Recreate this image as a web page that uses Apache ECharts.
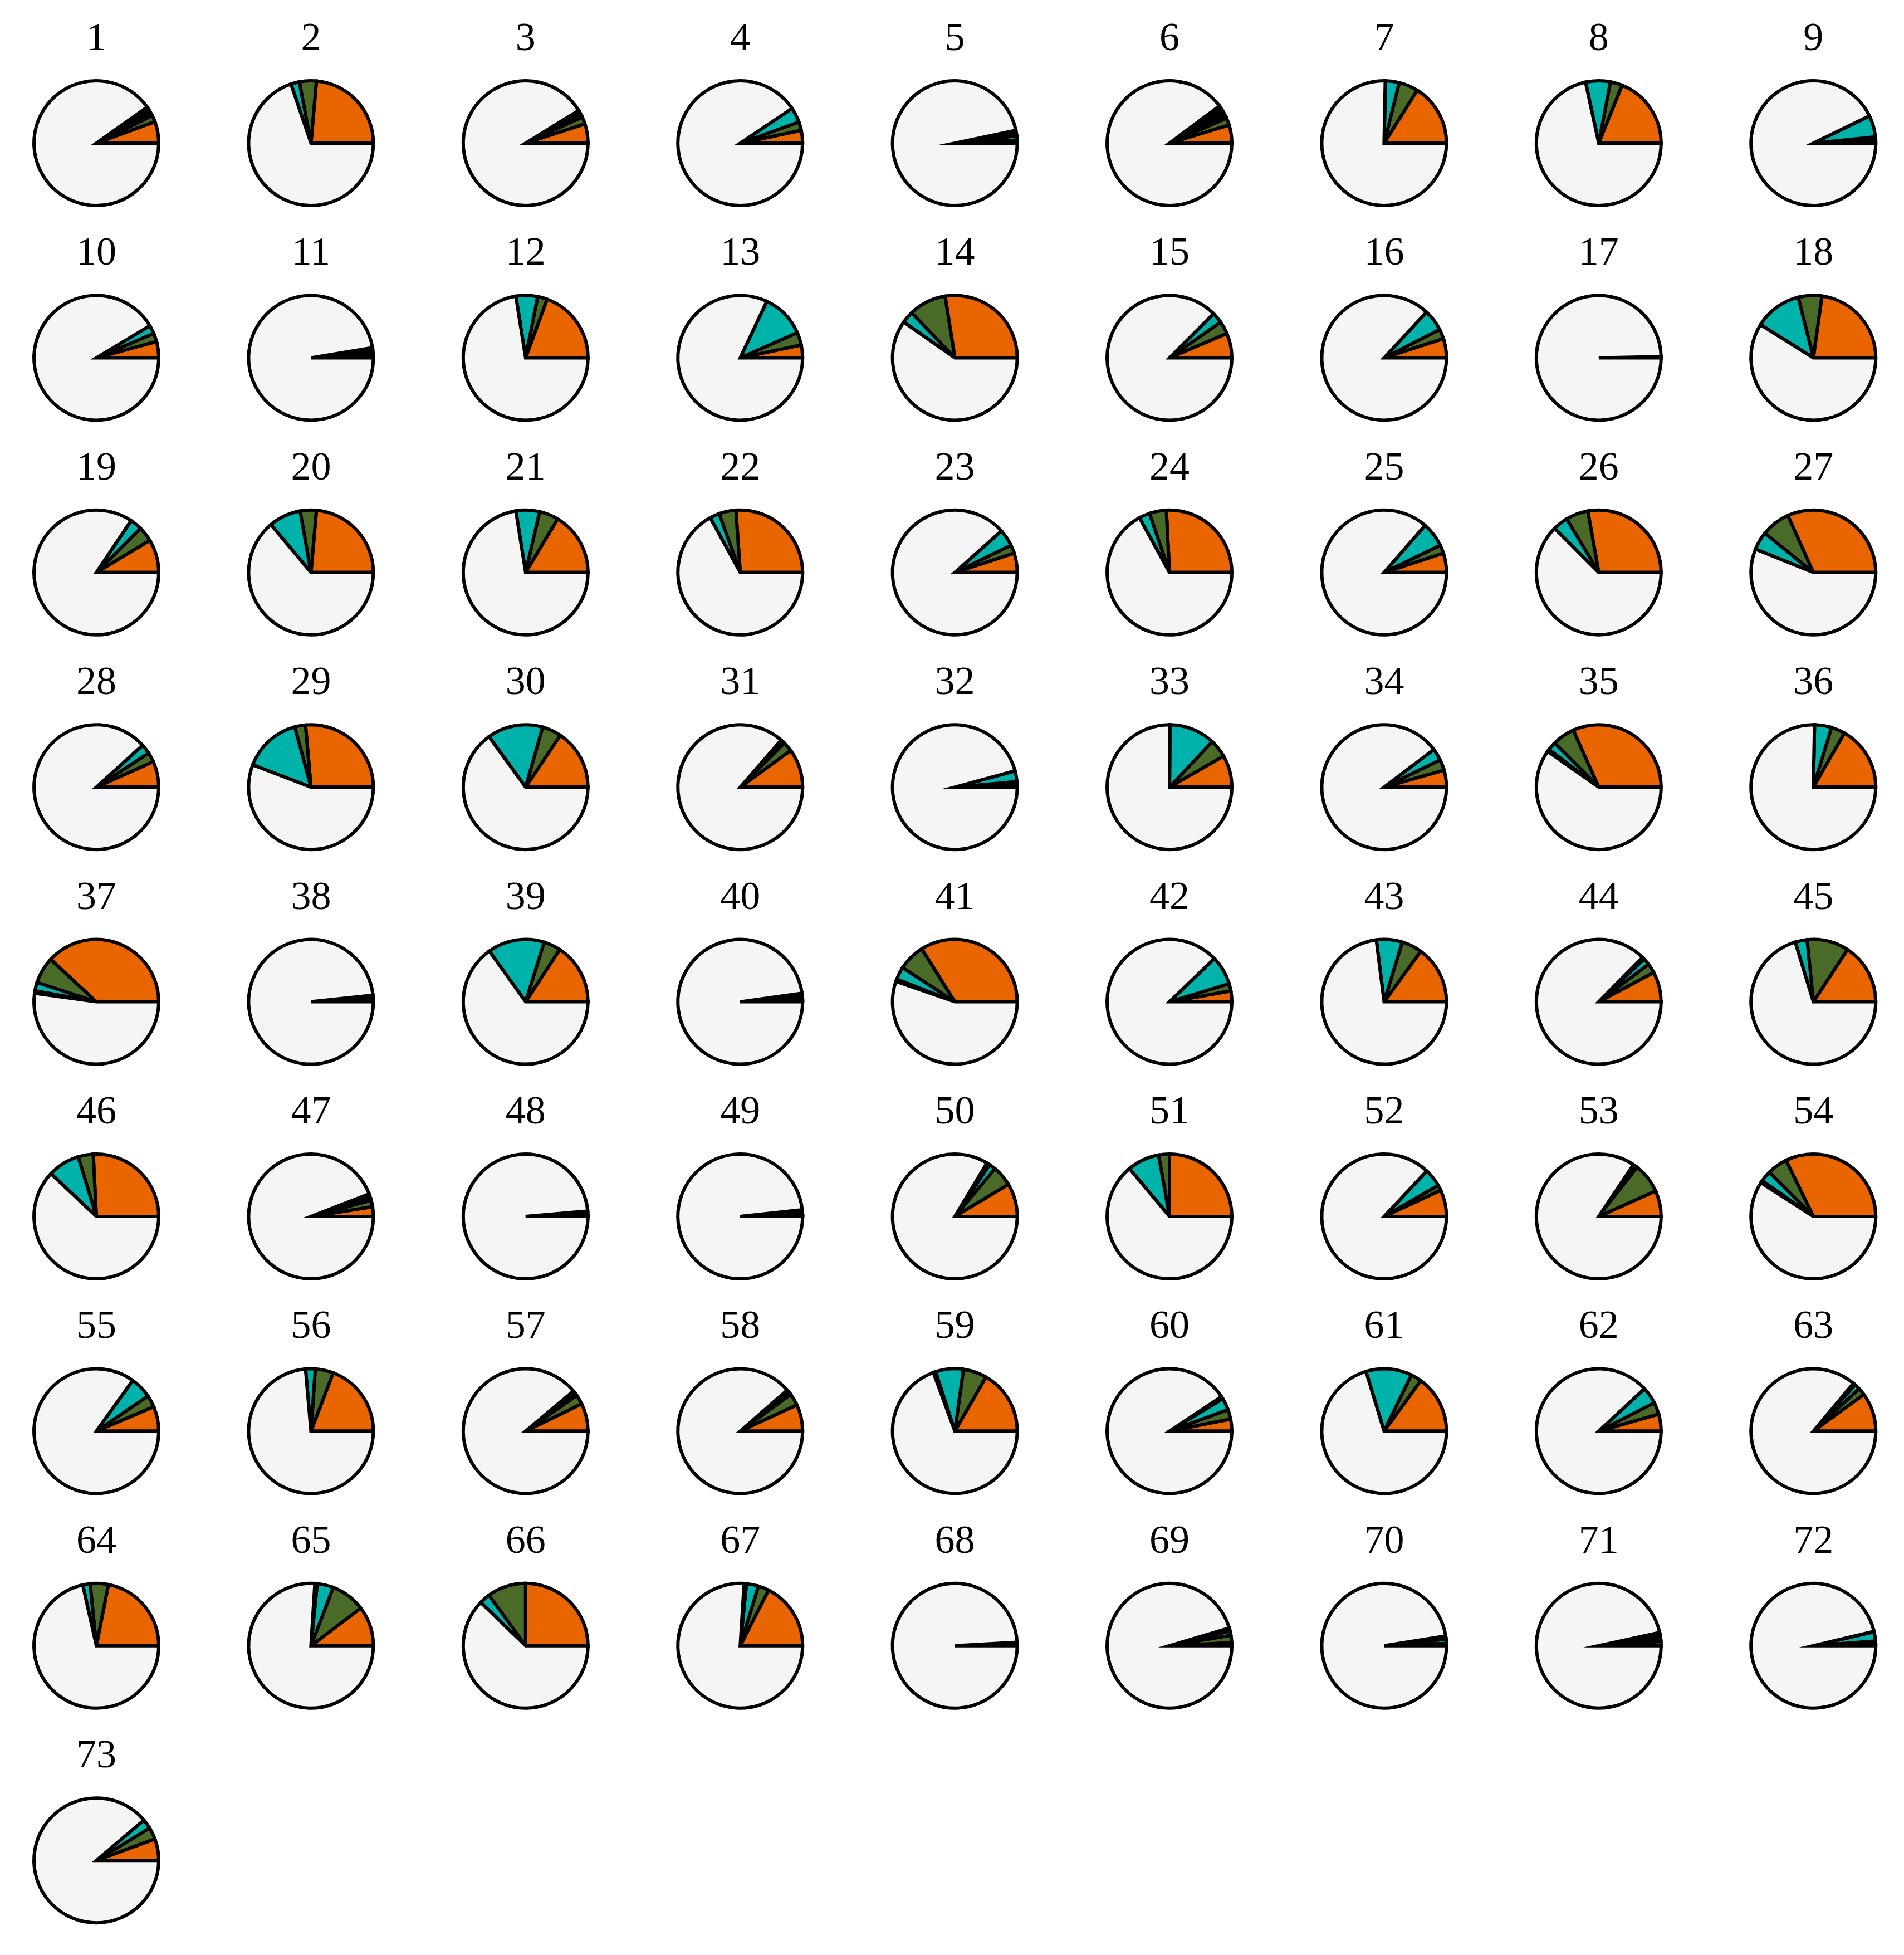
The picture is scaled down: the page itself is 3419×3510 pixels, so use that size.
<!DOCTYPE html>
<html>
<head>
<meta charset="utf-8">
<script src="https://cdn.jsdelivr.net/npm/echarts@6/dist/echarts.min.js"></script>
<style>
html,body{margin:0;padding:0;background:#fff;}
#chart{width:3419px;height:3510px;}
</style>
</head>
<body>
<div id="chart"></div>
<script>
// Panel labels
const labels = Array.from({length: 73}, (_, i) => String(i + 1));

// Slice shares (percent of each pie)
const orange = [5.6,23.6,5.0,3.3,0.4,4.7,16.1,18.9,0.8,
  4.2,0.3,19.4,3.3,27.5,6.4,5.0,0.1,22.8,
  8.6,23.6,16.4,26.1,5.0,25.8,5.0,27.8,31.7,
  6.7,26.4,15.6,10.0,0.8,8.3,4.4,31.7,16.7,
  38.1,0.3,15.8,0.3,33.9,2.8,15.0,7.8,15.8,
  25.8,2.5,0.1,0.1,8.6,25.0,6.9,6.7,32.2,
  6.4,19.2,7.2,6.9,16.7,3.1,15.0,4.4,10.0,
  21.9,10.3,25.0,17.5,0.1,0.8,0.3,1.1,0.6,
  5.6];
const green = [1.7,4.4,1.9,2.2,0.4,1.9,5.0,3.1,0.8,
  2.2,0.3,2.5,3.3,9.7,3.3,2.5,0.1,6.1,
  3.9,4.2,5.0,4.4,2.2,4.4,2.2,5.8,7.5,
  2.5,2.8,5.0,2.5,0.6,4.7,2.8,5.8,3.6,
  6.9,0.3,4.4,0.3,6.9,1.9,5.3,2.5,10.8,
  3.9,1.7,0.1,0.1,5.3,2.8,1.4,7.8,5.3,
  3.1,4.7,2.5,3.1,6.1,2.5,2.8,3.1,1.9,
  4.7,8.9,10.0,2.8,0.1,1.9,0.3,0.6,0.6,
  3.1];
const teal = [0.1,2.2,0.1,3.9,1.1,0.3,3.6,6.4,5.6,
  2.2,0.3,5.6,11.4,3.1,2.8,5.6,0.05,12.2,
  3.1,8.3,6.1,2.5,4.4,2.8,6.4,3.9,4.7,
  2.5,15.0,14.4,0.3,2.8,11.9,3.1,2.2,4.4,
  2.2,0.7,14.7,0.3,3.3,7.5,6.7,1.7,3.1,
  8.3,0.3,0.1,0.1,1.7,8.3,4.7,0.3,2.8,
  5.6,2.5,0.3,0.3,7.2,3.1,11.9,4.4,1.4,
  1.9,4.2,2.8,3.1,0.1,1.1,1.1,0.4,2.4,
  2.5];
const black = [2.4,0,1.8,0,1.4,3.3,0,0,0,
  0,1.7,0,0,0,0,0,0.05,0,
  0,0,0,0,0,0,0,0,0,
  0,0,0,0.8,0,0,0,0.6,0,
  0.6,0.4,0,1.3,0.6,0,0,0.6,0,
  0,1.4,1.1,1.4,0.8,0,0,0.8,0.6,
  0,0,1.1,1.1,0.6,0.6,0,0,0.6,
  0,0.6,0,0.6,0.6,0.8,0.8,1.3,0.1,
  0];

const colors = ['#E86500', '#4A6B28', '#00B3AA', '#000000', '#F5F5F5'];

const NCOL = 9, X0 = 173, Y0 = 257, STEP = 385.4, R = 112;

const series = [], titles = [];
labels.forEach((lab, i) => {
  const col = i % NCOL, row = Math.floor(i / NCOL);
  const cx = X0 + col * STEP, cy = Y0 + row * STEP;
  const used = orange[i] + green[i] + teal[i] + black[i];
  const vals = [orange[i], green[i], teal[i], black[i], Math.max(0, 100 - used)];
  series.push({
    type: 'pie',
    center: [cx, cy],
    radius: R,
    startAngle: 0,
    clockwise: false,
    silent: true,
    animation: false,
    avoidLabelOverlap: false,
    label: {show: false},
    labelLine: {show: false},
    emphasis: {disabled: true},
    itemStyle: {borderColor: '#000', borderWidth: 6, borderJoin: 'miter'},
    data: vals.map((v, k) => ({value: v, itemStyle: {color: colors[k]}}))
  });
  titles.push({
    text: lab,
    left: cx,
    top: cy - 222,
    padding: 0,
    textAlign: 'center',
    textStyle: {fontFamily: 'Liberation Serif', fontWeight: 'normal', fontSize: 72, color: '#000'}
  });
});

const chart = echarts.init(document.getElementById('chart'), null, {renderer: 'canvas'});
chart.setOption({
  backgroundColor: '#ffffff',
  animation: false,
  title: titles,
  series: series
});
</script>
</body>
</html>
